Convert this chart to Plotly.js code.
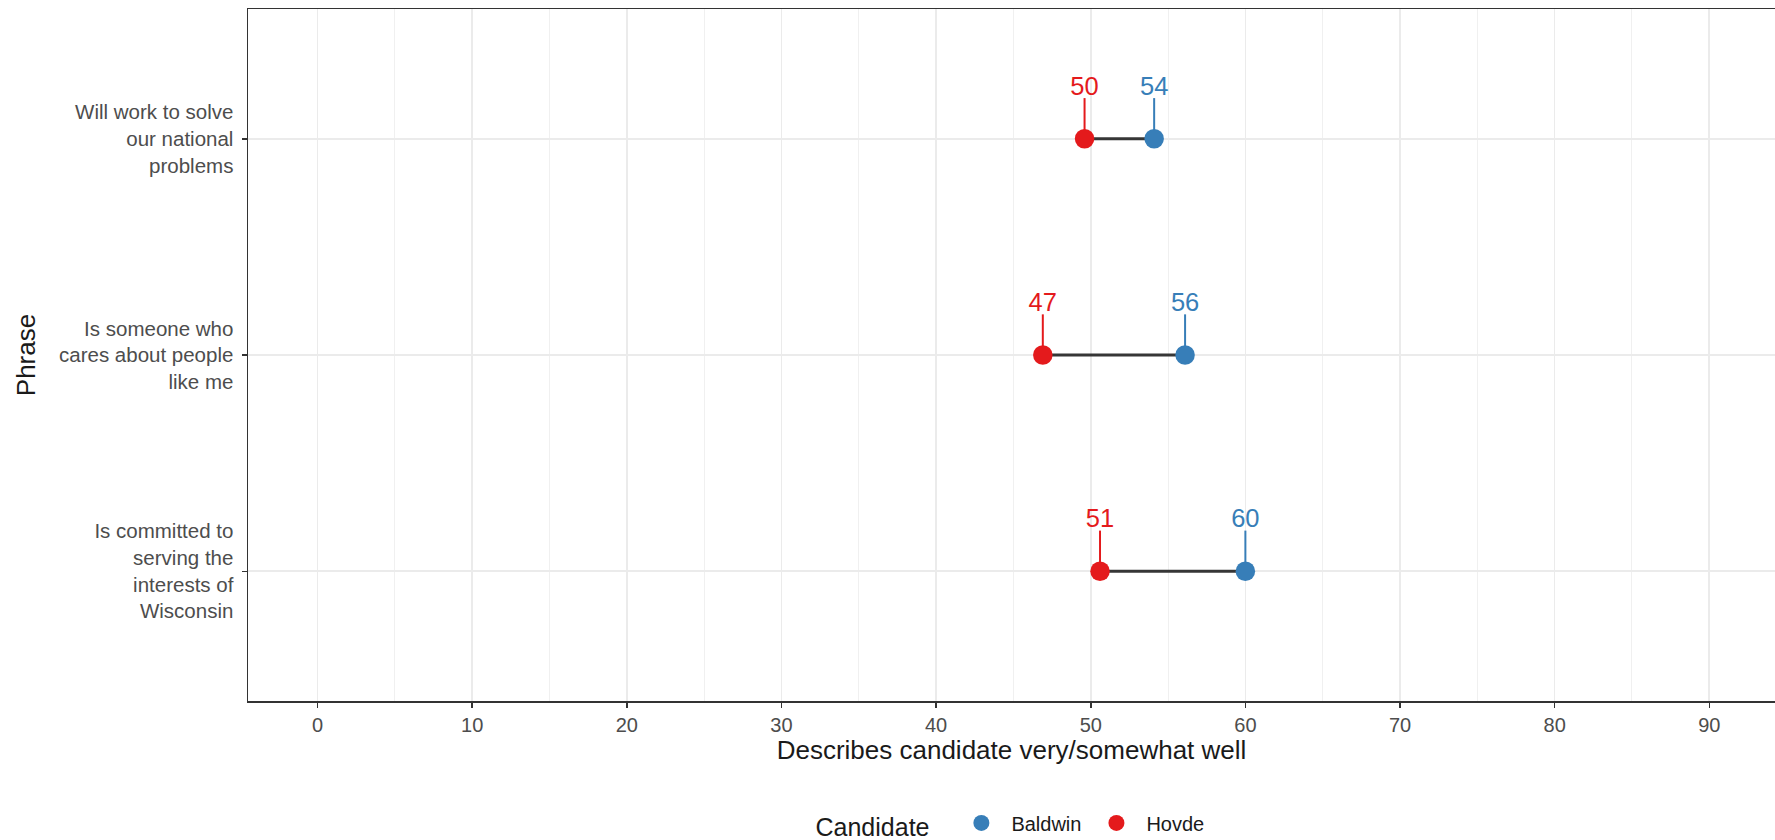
<!DOCTYPE html>
<html>
<head>
<meta charset="utf-8">
<script src="https://cdn.plot.ly/plotly-3.0.1.min.js"></script>
<style>html,body{margin:0;padding:0;background:#fff;}#chart{width:1775px;height:840px;}</style>
</head>
<body>
<div id="chart"></div>
<script>
// Data (top row first)
const phrases = [
  "Will work to solve<br>our national<br>problems",
  "Is someone who<br>cares about people<br>like me",
  "Is committed to<br>serving the<br>interests of<br>Wisconsin"
];
const baldwin = [54.1, 56.1, 60.0];
const hovde = [49.6, 46.9, 50.6];
const candidates = ["Baldwin", "Hovde"];
const xTicks = [0, 10, 20, 30, 40, 50, 60, 70, 80, 90];

const colBlue = "#377EB8";
const colRed = "#E41A1C";
const font = "Liberation Sans, Arial, Helvetica, sans-serif";

// numeric y positions: top row highest
const n = phrases.length;
const ypos = phrases.map((_, i) => n - 1 - i);

const segOff = 0.188;
const txtOff = 0.232;

function stemTrace(vals, color) {
  const xs = [], ys = [];
  vals.forEach((v, i) => { xs.push(v, v, null); ys.push(ypos[i], ypos[i] + segOff, null); });
  return {x: xs, y: ys, mode: "lines", line: {color: color, width: 2}, showlegend: false, hoverinfo: "skip"};
}
function labelTrace(vals, color) {
  return {x: vals, y: ypos.map(y => y + txtOff), mode: "text", text: vals.map(v => String(Math.round(v))),
    textposition: "middle center", textfont: {family: font, size: 25.5, color: color}, showlegend: false, hoverinfo: "skip"};
}

const connX = [], connY = [];
hovde.forEach((h, i) => { connX.push(h, baldwin[i], null); connY.push(ypos[i], ypos[i], null); });

const traces = [
  {x: connX, y: connY, mode: "lines", line: {color: "#363636", width: 3}, showlegend: false, hoverinfo: "skip"},
  stemTrace(baldwin, colBlue),
  stemTrace(hovde, colRed),
  labelTrace(baldwin, colBlue),
  labelTrace(hovde, colRed),
  {x: baldwin, y: ypos, mode: "markers", name: candidates[0], marker: {color: colBlue, size: 19.5}},
  {x: hovde, y: ypos, mode: "markers", name: candidates[1], marker: {color: colRed, size: 19.5}}
];

const layout = {
  width: 1775, height: 840,
  margin: {l: 248, r: 0, t: 9, b: 139},
  paper_bgcolor: "#ffffff", plot_bgcolor: "#ffffff",
  font: {family: font, color: "#4d4d4d"},
  showlegend: true,
  xaxis: {
    range: [-4.5, 94.25],
    tickvals: xTicks, ticktext: xTicks.map(String),
    ticks: "outside", ticklen: 5, tickwidth: 1.5, tickcolor: "#333333",
    tickfont: {size: 20, color: "#4d4d4d", family: font},
    showline: true, linecolor: "#333333", linewidth: 1.5, mirror: true,
    showgrid: true, gridcolor: "#EBEBEB", gridwidth: 1.6,
    minor: {dtick: 5, tick0: 0, showgrid: true, gridcolor: "#EEEEEE", gridwidth: 0.9, ticks: ""},
    zeroline: false, automargin: false,
    title: {text: "Describes candidate very/somewhat well", font: {size: 26, color: "#1a1a1a", family: font}, standoff: 6}
  },
  yaxis: {
    range: [-0.6, 2.6],
    tickvals: ypos, ticktext: phrases,
    ticks: "outside", ticklen: 5, tickwidth: 1.5, tickcolor: "#333333",
    tickfont: {size: 20.5, color: "#4d4d4d", family: font},
    ticklabelstandoff: 4,
    showline: true, linecolor: "#333333", linewidth: 1.5, mirror: false,
    showgrid: true, gridcolor: "#EBEBEB", gridwidth: 1.6,
    zeroline: false, automargin: false,
    title: {text: "Phrase", font: {size: 26, color: "#1a1a1a", family: font}, standoff: 16}
  },
  legend: {
    orientation: "h", x: 0.5, xanchor: "center", xref: "paper",
    yref: "container", y: 0.018, yanchor: "middle",
    font: {size: 20, color: "#1a1a1a", family: font},
    title: {text: "Candidate  ", font: {size: 25, color: "#1a1a1a", family: font}, side: "left"},
    itemwidth: 50, tracegroupgap: 0
  }
};

Plotly.newPlot("chart", traces, layout, {displayModeBar: false, staticPlot: true});
</script>
</body>
</html>
